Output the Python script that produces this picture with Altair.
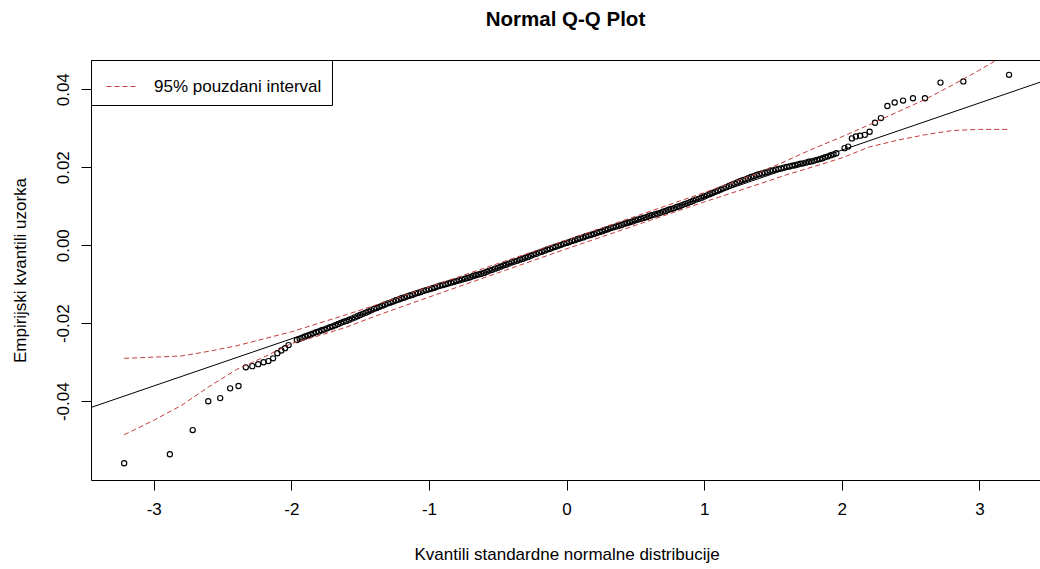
import altair as alt
import numpy as np
import pandas as pd

FONT = "Liberation Sans"

# Theoretical quantiles (x) and sample quantiles (y) of the lowest ordered observations
left_tail_q = [-3.215, -2.883, -2.717, -2.604, -2.517, -2.445, -2.384, -2.331, -2.284,
               -2.241, -2.202, -2.167, -2.133, -2.102, -2.073, -2.046, -2.020]
left_tail_v = [-0.0559, -0.0536, -0.0474, -0.0400, -0.0392, -0.0367, -0.0361, -0.0313, -0.0310,
               -0.0305, -0.0300, -0.0297, -0.0290, -0.0277, -0.0270, -0.0264, -0.0256]

# Dense central body of the sample: quantiles from -1.96 to 1.96 in steps of 0.02
band_start = -1.96
band_step = 0.02
band_v = [
    -0.0243, -0.0240, -0.0237,
    -0.0234, -0.0231, -0.0229, -0.0226, -0.0223,
    -0.0221, -0.0218, -0.0216, -0.0213, -0.0210,
    -0.0208, -0.0205, -0.0202, -0.0199, -0.0196,
    -0.0194, -0.0191, -0.0188, -0.0185, -0.0182,
    -0.0179, -0.0176, -0.0173, -0.0170, -0.0167,
    -0.0163, -0.0161, -0.0158, -0.0155, -0.0152,
    -0.0149, -0.0147, -0.0144, -0.0141, -0.0139,
    -0.0136, -0.0134, -0.0131, -0.0129, -0.0127,
    -0.0124, -0.0122, -0.0120, -0.0117, -0.0115,
    -0.0113, -0.0111, -0.0109, -0.0106, -0.0104,
    -0.0102, -0.0100, -0.0098, -0.0096, -0.0094,
    -0.0092, -0.0090, -0.0088, -0.0086, -0.0084,
    -0.0082, -0.0079, -0.0077, -0.0075, -0.0073,
    -0.0071, -0.0068, -0.0065, -0.0063, -0.0060,
    -0.0058, -0.0055, -0.0052, -0.0050, -0.0047,
    -0.0044, -0.0042, -0.0040, -0.0037, -0.0035,
    -0.0032, -0.0030, -0.0027, -0.0024, -0.0022,
    -0.0019, -0.0017, -0.0014, -0.0011, -0.0009,
    -0.0006, -0.0004, -0.0001, 0.0001, 0.0004,
    0.0006, 0.0008, 0.0011, 0.0013, 0.0016,
    0.0018, 0.0020, 0.0023, 0.0025, 0.0027,
    0.0029, 0.0032, 0.0034, 0.0036, 0.0039,
    0.0041, 0.0044, 0.0046, 0.0048, 0.0050,
    0.0052, 0.0055, 0.0057, 0.0059, 0.0061,
    0.0064, 0.0066, 0.0068, 0.0070, 0.0072,
    0.0075, 0.0077, 0.0079, 0.0081, 0.0083,
    0.0086, 0.0088, 0.0091, 0.0093, 0.0095,
    0.0098, 0.0100, 0.0103, 0.0106, 0.0108,
    0.0111, 0.0114, 0.0117, 0.0119, 0.0122,
    0.0125, 0.0128, 0.0131, 0.0134, 0.0137,
    0.0140, 0.0143, 0.0146, 0.0149, 0.0152,
    0.0155, 0.0158, 0.0161, 0.0164, 0.0167,
    0.0169, 0.0172, 0.0175, 0.0177, 0.0180,
    0.0182, 0.0184, 0.0186, 0.0188, 0.0191,
    0.0192, 0.0194, 0.0196, 0.0197, 0.0199,
    0.0201, 0.0202, 0.0204, 0.0205, 0.0207,
    0.0209, 0.0210, 0.0212, 0.0214, 0.0215,
    0.0217, 0.0219, 0.0221, 0.0223, 0.0226,
    0.0228, 0.0231, 0.0233, 0.0236,
]

# Highest ordered observations
right_tail_q = [2.020, 2.046, 2.073, 2.102, 2.133, 2.167, 2.202, 2.241, 2.284,
                2.331, 2.384, 2.445, 2.517, 2.604, 2.717, 2.883, 3.215]
right_tail_v = [0.0249, 0.0253, 0.0274, 0.0279, 0.0281, 0.0283, 0.0291, 0.0314, 0.0326,
                0.0357, 0.0366, 0.0371, 0.0377, 0.0377, 0.0417, 0.0420, 0.0437]

# Reference line through the quartiles (end points at the plot edges)
ref_line_q = [-3.456, 3.44]
ref_line_v = [-0.0416, 0.0418]

# 95% pointwise confidence envelope
env_q = [-3.215, -3.0, -2.8, -2.6, -2.4, -2.2, -2.0, -1.8, -1.6, -1.4, -1.2, -1.0, -0.5,
         0.0, 0.5, 1.0, 1.2, 1.4, 1.6, 1.8, 2.0, 2.2, 2.4, 2.6, 2.8, 3.0, 3.215]
env_upper = [-0.0290, -0.0287, -0.0284, -0.0272, -0.0258, -0.0240, -0.0222, -0.0200, -0.0178,
             -0.0155, -0.0131, -0.0107, -0.0047, 0.0013, 0.0074, 0.0135, 0.0160, 0.0186,
             0.0217, 0.0249, 0.0278, 0.0309, 0.0341, 0.0373, 0.0410, 0.0449, 0.0494]
env_lower = [-0.0486, -0.0449, -0.0411, -0.0363, -0.0319, -0.0287, -0.0252, -0.0232, -0.0210,
             -0.0183, -0.0158, -0.0133, -0.0071, -0.0009, 0.0051, 0.0111, 0.0134, 0.0157,
             0.0181, 0.0202, 0.0224, 0.0252, 0.0269, 0.0283, 0.0294, 0.0297, 0.0297]

ENV_LABEL = "95% pouzdani interval"
ENV_COLOR = "#c43c3c"

band_q = np.round(band_start + band_step * np.arange(len(band_v)), 2)
points = pd.DataFrame({
    "q": list(left_tail_q) + list(band_q) + list(right_tail_q),
    "v": list(left_tail_v) + list(band_v) + list(right_tail_v),
})
ref_line = pd.DataFrame({"q": ref_line_q, "v": ref_line_v})
envelope = pd.concat([
    pd.DataFrame({"q": env_q, "v": env_upper, "bound": "upper", "label": ENV_LABEL}),
    pd.DataFrame({"q": env_q, "v": env_lower, "bound": "lower", "label": ENV_LABEL}),
])

x_scale = alt.Scale(domain=[-3.456, 3.44], nice=False, zero=False)
y_scale = alt.Scale(domain=[-0.0602, 0.0475], nice=False, zero=False)

x_axis = alt.Axis(
    values=[-3, -2, -1, 0, 1, 2, 3],
    labelExpr="replace(format(datum.value, 'd'), '\u2212', '-')",
    tickSize=10, labelPadding=11, grid=False, domain=False,
    labelFlush=False, labelOverlap=False,
    labelFont=FONT, labelFontSize=17, labelColor="black",
    tickColor="black", tickWidth=1,
    title="Kvantili standardne normalne distribucije",
    titleFont=FONT, titleFontSize=17, titleFontWeight="normal", titleColor="black",
    titleX=475.6, titleY=79, titleAlign="center", titleBaseline="alphabetic",
)
y_axis = alt.Axis(
    values=[-0.04, -0.02, 0.0, 0.02, 0.04],
    labelExpr="replace(format(datum.value, '.2f'), '\u2212', '-')",
    labelAngle=270, labelAlign="center", labelBaseline="alphabetic",
    tickSize=10, labelPadding=13, grid=False, domain=False,
    labelFlush=False, labelOverlap=False,
    labelFont=FONT, labelFontSize=17, labelColor="black",
    tickColor="black", tickWidth=1,
    title="Empirijski kvantili uzorka",
    titleFont=FONT, titleFontSize=17, titleFontWeight="normal", titleColor="black",
    titleAngle=270, titleX=-71, titleY=210, titleAlign="center", titleBaseline="middle",
)

pts = alt.Chart(points).mark_point(
    shape="circle", filled=False, size=27, strokeWidth=1.15, color="black", opacity=1
).encode(
    x=alt.X("q:Q", scale=x_scale, axis=x_axis),
    y=alt.Y("v:Q", scale=y_scale, axis=y_axis),
)

line = alt.Chart(ref_line).mark_line(color="black", strokeWidth=1, clip=True).encode(
    x=alt.X("q:Q", scale=x_scale),
    y=alt.Y("v:Q", scale=y_scale),
)

env = alt.Chart(envelope).mark_line(strokeWidth=1, strokeDash=[5, 3], clip=True).encode(
    x=alt.X("q:Q", scale=x_scale),
    y=alt.Y("v:Q", scale=y_scale),
    detail="bound:N",
    color=alt.Color(
        "label:N",
        scale=alt.Scale(domain=[ENV_LABEL], range=[ENV_COLOR]),
        legend=alt.Legend(
            title=None, orient="top-left", offset=0, padding=10,
            strokeColor="black", fillColor="white", cornerRadius=0,
            symbolType="stroke", symbolSize=1024, symbolStrokeWidth=1,
            symbolStrokeColor=ENV_COLOR, symbolDash=[5, 3], symbolOffset=5,
            labelOffset=15, labelFontSize=17, labelFont=FONT,
            labelColor="black", labelLimit=0,
        ),
    ),
)

chart = alt.layer(line, pts, env).properties(
    width=949,
    height=420,
    padding={"left": 91, "top": 60, "right": 0, "bottom": 89},
    autosize=alt.AutoSizeParams(type="none"),
    background="white",
    title=alt.TitleParams(
        text="Normal Q-Q Plot", fontSize=20.5, fontWeight="bold", font=FONT,
        color="black", anchor="middle", baseline="alphabetic", offset=13, frame="group",
    ),
).configure_view(
    stroke="black", strokeWidth=1
)

chart.save("out.html", embed_options={"renderer": "svg", "actions": False})
